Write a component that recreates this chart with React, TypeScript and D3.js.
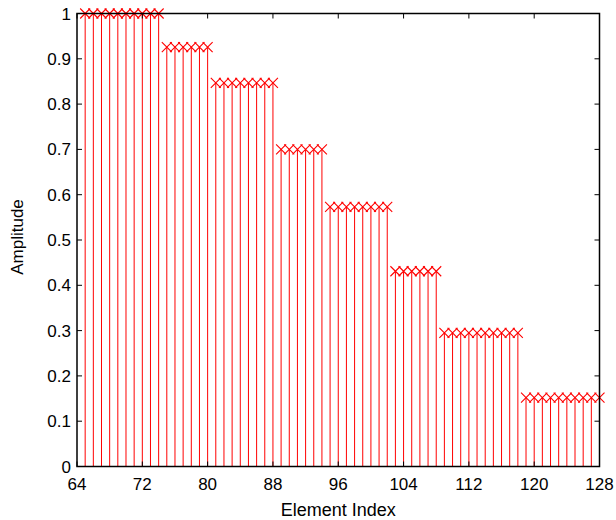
import React from "react";
import * as d3 from "d3";

const groupStarts = [65, 75, 81, 89, 95, 103, 109, 119];
const groupCounts = [10, 6, 8, 6, 8, 6, 10, 10];
const groupValues = [1.0, 0.926, 0.847, 0.7, 0.573, 0.431, 0.295, 0.152];
const xTicks = [64, 72, 80, 88, 96, 104, 112, 120, 128];
const yTicks = [0, 0.1, 0.2, 0.3, 0.4, 0.5, 0.6, 0.7, 0.8, 0.9, 1];

const points: { i: number; v: number }[] = [];
groupStarts.forEach((s, g) => {
  for (let k = 0; k < groupCounts[g]; k++) points.push({ i: s + k, v: groupValues[g] });
});

export default function App() {
  const W = 616, H = 520;
  const L = 77, R = 599.5, T = 13.5, B = 466.5;
  const x = d3.scaleLinear().domain([64, 128]).range([L, R]);
  const y = d3.scaleLinear().domain([0, 1]).range([B, T]);
  const font = "Liberation Sans, Arial, sans-serif";
  const ms = 5;
  return (
    <svg width={W} height={H} style={{ position: "absolute", left: 0, top: 0 }} fontFamily={font}>
      <rect width={W} height={H} fill="white" />
      {points.map((p) => (
        <g key={p.i}>
          <line x1={x(p.i)} x2={x(p.i)} y1={y(0)} y2={y(p.v)} stroke="#ff0000" strokeWidth={1} />
          <path
            d={`M${x(p.i) - ms},${y(p.v) - ms}L${x(p.i) + ms},${y(p.v) + ms}M${x(p.i) - ms},${y(p.v) + ms}L${x(p.i) + ms},${y(p.v) - ms}`}
            stroke="#ff0000"
            strokeWidth={1.1}
            fill="none"
          />
        </g>
      ))}
      <rect x={L} y={T} width={R - L} height={B - T} fill="none" stroke="#000" strokeWidth={1.5} />
      {xTicks.map((t) => (
        <g key={"x" + t}>
          <line x1={x(t)} x2={x(t)} y1={B} y2={B - 5} stroke="#000" />
          <line x1={x(t)} x2={x(t)} y1={T} y2={T + 5} stroke="#000" />
          <text x={x(t)} y={B + 23} textAnchor="middle" fontSize={17} fill="#000">{t}</text>
        </g>
      ))}
      {yTicks.map((t) => (
        <g key={"y" + t}>
          <line x1={L} x2={L + 5} y1={y(t)} y2={y(t)} stroke="#000" />
          <line x1={R} x2={R - 5} y1={y(t)} y2={y(t)} stroke="#000" />
          <text x={L - 6} y={y(t) + 6} textAnchor="end" fontSize={17} fill="#000">{t}</text>
        </g>
      ))}
      <text x={(L + R) / 2} y={516} textAnchor="middle" fontSize={18} fill="#000">Element Index</text>
      <text transform={`translate(23,${(T + B) / 2 - 3}) rotate(-90)`} textAnchor="middle" fontSize={17} fill="#000">Amplitude</text>
    </svg>
  );
}
